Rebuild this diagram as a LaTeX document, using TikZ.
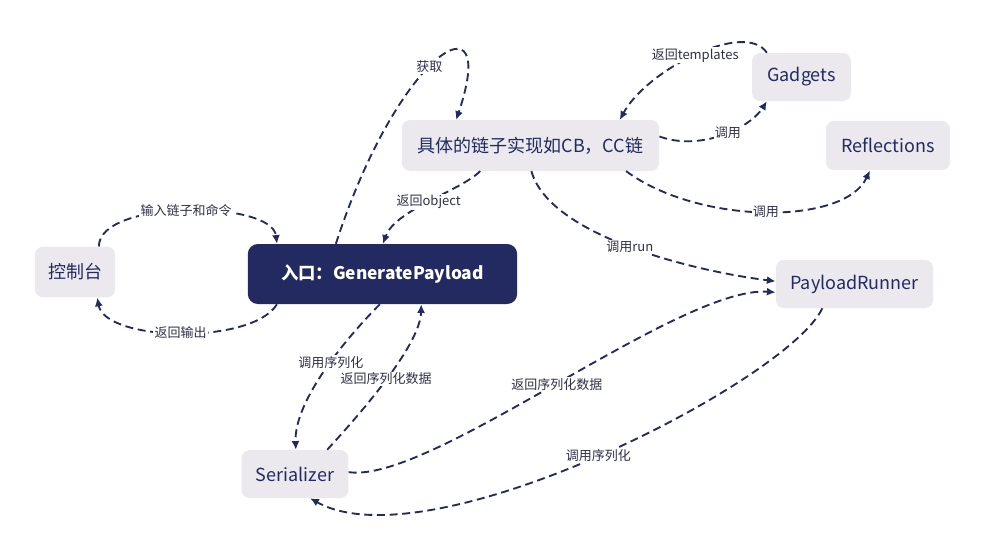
\documentclass[tikz,border=0pt]{standalone}
\usepackage{fontspec}
\setmainfont{Noto Sans CJK SC}
\usetikzlibrary{arrows.meta}
\definecolor{Navy}{HTML}{222A61}
\definecolor{PaleGrey}{HTML}{EBE9EE}
\definecolor{LabelInk}{HTML}{2E3048}

\begin{document}
\begin{tikzpicture}[x=0.75pt, y=-0.75pt,
    box/.style={fill=PaleGrey, text=Navy, rounded corners=6pt, font=\fontsize{13.5}{16}\selectfont, minimum height=36pt},
    entrybox/.style={fill=Navy, text=white, rounded corners=7.5pt, font=\bfseries\fontsize{13}{16}\selectfont},
    flow/.style={draw=Navy, line width=1.4pt, dash pattern=on 6pt off 3.5pt, -{Latex[length=6.5pt,width=6pt]}},
    lbl/.style={fill=white, text=LabelInk, inner sep=1pt, font=\fontsize{9.75}{11}\selectfont}]
  \useasboundingbox (0,0) rectangle (981,543);
  \node[box, minimum width=60pt, minimum height=38pt] (console) at (75,272) {控制台};
  \node[entrybox, minimum width=202pt, minimum height=45pt] (entry) at (382.5,274) {入口：GeneratePayload};
  \node[box, minimum width=193pt, minimum height=38pt] (chain) at (530.5,145.5) {具体的链子实现如CB，CC链};
  \node[box, minimum width=74pt] (gadgets) at (801.5,77) {Gadgets};
  \node[box, minimum width=93pt, minimum height=37pt] (refl) at (888,145.5) {Reflections};
  \node[box, minimum width=118pt] (runner) at (854.5,284) {PayloadRunner};
  \node[box, minimum width=80pt] (ser) at (295,474) {Serializer};

  \draw[flow] (console.47) .. controls +(0,-47) and +(-5,-44) .. (entry.164) node[lbl, pos=0.5] {输入链子和命令};
  \draw[flow] (entry.196) .. controls +(-25,41) and +(8,44) .. (console.311) node[lbl, pos=0.5] {返回输出};
  \draw[flow] (entry.147) .. controls +(63,-194) and +(44,-130) .. (chain.161) node[lbl, pos=0.46] {获取};
  \draw[flow] (chain.207) .. controls +(-20,20) and +(12,-34) .. (entry.89) node[lbl, pos=0.5] {返回object};
  \draw[flow] (gadgets.145) .. controls +(-22,-33) and +(27,-50) .. (chain.16) node[lbl, pos=0.5] {返回templates};
  \draw[flow] (chain.4) .. controls +(41,15) and +(-17,27) .. (gadgets.215) node[lbl, pos=0.55] {调用};
  \draw[flow] (chain.345) .. controls +(73,54) and +(-25,55) .. (refl.234) node[lbl, pos=0.5] {调用};
  \draw[flow] (chain.272) .. controls +(18,65) and +(-81,-10) .. (runner.178) node[lbl, pos=0.5] {调用run};
  \draw[flow] (ser.2) .. controls +(82,12) and +(-96,-7) .. (runner.186) node[lbl, pos=0.5] {返回序列化数据};
  \draw[flow] (runner.217) .. controls +(-33,72) and +(119,67) .. (ser.302) node[lbl, pos=0.5] {调用序列化};
  \draw[flow] (entry.265) .. controls +(-31,31) and +(-2,-50) .. (ser.88) node[lbl, pos=0.45] {调用序列化};
  \draw[flow] (ser.37) .. controls +(33,-36) and +(-1,41) .. (entry.322) node[lbl, pos=0.5] {返回序列化数据};
\end{tikzpicture}
\end{document}
